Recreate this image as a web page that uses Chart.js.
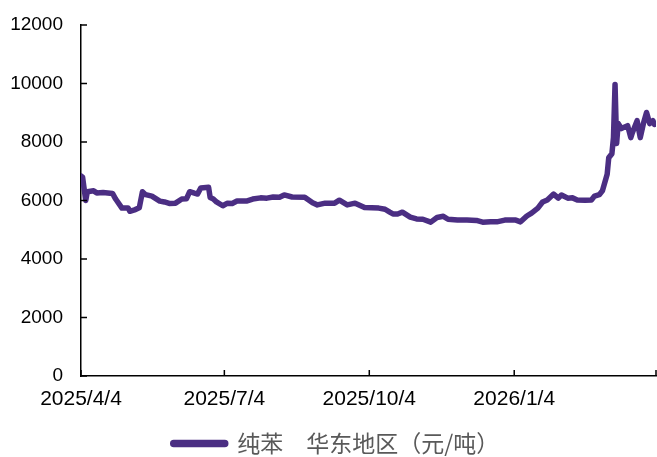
<!DOCTYPE html>
<html>
<head>
<meta charset="utf-8">
<script src="https://cdn.jsdelivr.net/npm/chart.js@4/dist/chart.umd.min.js"></script>
<style>
	html, body { margin: 0; padding: 0; background: #fff; }
	#wrap { width: 657px; height: 457px; }
</style>
</head>
<body>
<div id="wrap"><canvas id="price-chart"></canvas></div>
<script>
// days since 2025/4/4
const days = [0, 1, 3, 4, 8, 10, 14, 20, 22, 26, 30, 31, 34, 37, 39, 41, 45, 50, 53, 56,
	60, 64, 67, 69, 72, 74, 76, 81, 82, 84, 86, 90, 93, 96, 99, 105, 109, 114, 118, 122,
	126, 129, 134, 142, 147, 150, 155, 161, 164, 169, 174, 180, 189, 193, 196, 198, 201, 204, 209, 213,
	217, 222, 226, 230, 233, 239, 245, 251, 255, 260, 264, 269, 276, 279, 283, 286, 290, 293, 296, 300,
	303, 305, 309, 312, 315, 320, 324, 326, 329, 331, 334, 335, 337, 338, 339, 340, 341, 343, 347, 349,
	350, 353, 355, 357, 359, 361, 363, 364];
const price = [6840, 6800, 6000, 6300, 6330, 6260, 6270, 6240, 6050, 5740, 5740, 5630, 5680, 5750, 6300, 6200, 6150, 5980, 5950, 5900,
	5910, 6050, 6060, 6300, 6250, 6220, 6430, 6450, 6100, 6050, 5950, 5820, 5910, 5900, 5980, 5980, 6050, 6090, 6080, 6120,
	6110, 6190, 6120, 6110, 5920, 5850, 5910, 5910, 6010, 5850, 5910, 5760, 5740, 5700, 5600, 5540, 5540, 5600, 5430, 5370,
	5360, 5260, 5420, 5460, 5360, 5330, 5330, 5320, 5260, 5270, 5270, 5330, 5330, 5270, 5470, 5570, 5740, 5950, 6020, 6220,
	6080, 6190, 6080, 6090, 6020, 6010, 6020, 6150, 6200, 6330, 6900, 7460, 7600, 8150, 9970, 7950, 8630, 8460, 8560, 8150,
	8320, 8730, 8150, 8630, 9010, 8630, 8730, 8600];

const tickDays = [0, 91, 183, 275, 365];
const tickLabels = ["2025/4/4", "2025/7/4", "2025/10/4", "2026/1/4", ""];
const seriesName = "纯苯　华东地区（元/吨）";
const lineColor = "#4b2e83";

// short tick marks pointing into the plot
const innerTicks = {
	id: "innerTicks",
	afterLayout(chart) {
		// legend sits a little right of centre in the original
		chart.legend.left += 8;
		chart.legend.right += 8;
	},
	afterDraw(chart) {
		const ctx = chart.ctx;
		const x = chart.scales.x, y = chart.scales.y;
		ctx.save();
		ctx.strokeStyle = "#000";
		ctx.lineWidth = 1.5;
		ctx.beginPath();
		x.ticks.forEach(t => {
			const px = x.getPixelForValue(t.value);
			ctx.moveTo(px, y.bottom);
			ctx.lineTo(px, y.bottom - 6);
		});
		y.ticks.forEach(t => {
			const py = y.getPixelForValue(t.value);
			ctx.moveTo(x.left, py);
			ctx.lineTo(x.left + 6, py);
		});
		ctx.stroke();
		ctx.restore();
	}
};

new Chart(document.getElementById("price-chart").getContext("2d"), {
	type: "line",
	data: {
		datasets: [{
			label: seriesName,
			data: days.map((d, i) => ({ x: d, y: price[i] })),
			borderColor: lineColor,
			backgroundColor: lineColor,
			borderWidth: 5.5,
			pointRadius: 0,
			tension: 0,
			borderJoinStyle: "round",
			borderCapStyle: "round"
		}]
	},
	options: {
		responsive: true,
		maintainAspectRatio: false,
		animation: false,
		layout: { padding: { top: 25, right: 1, left: 0, bottom: -8 } },
		scales: {
			x: {
				type: "linear",
				min: 0,
				max: 365,
				afterBuildTicks: (scale) => { scale.ticks = tickDays.map(v => ({ value: v })); },
				afterFit: (scale) => {
					scale.height = 56;
					scale.paddingRight = 0;
					scale.paddingLeft = 0;
				},
				grid: { display: false, drawTicks: false },
				border: { display: true, color: "#000", width: 1.5 },
				ticks: {
					autoSkip: false,
					maxRotation: 0,
					padding: 11,
					color: "#000",
					font: { family: "Liberation Sans", size: 21 },
					callback: (v) => tickLabels[tickDays.indexOf(v)] ?? ""
				}
			},
			y: {
				min: 0,
				max: 12000,
				afterFit: (scale) => {
					scale.width = 81;
					scale.paddingTop = 0;
					scale.paddingBottom = 0;
				},
				grid: { display: false, drawTicks: false },
				border: { display: true, color: "#000", width: 1.5 },
				ticks: {
					stepSize: 2000,
					padding: 18,
					color: "#000",
					font: { family: "Liberation Sans", size: 19 },
					callback: (v) => String(v)
				}
			}
		},
		plugins: {
			legend: {
				position: "bottom",
				labels: {
					boxWidth: 53,
					boxHeight: 2,
					useBorderRadius: true,
					borderRadius: 1,
					padding: 0,
					color: "#595959",
					font: { family: "Noto Sans CJK SC", size: 23 }
				}
			},
			tooltip: { enabled: false }
		}
	},
	plugins: [innerTicks]
});
</script>
</body>
</html>
